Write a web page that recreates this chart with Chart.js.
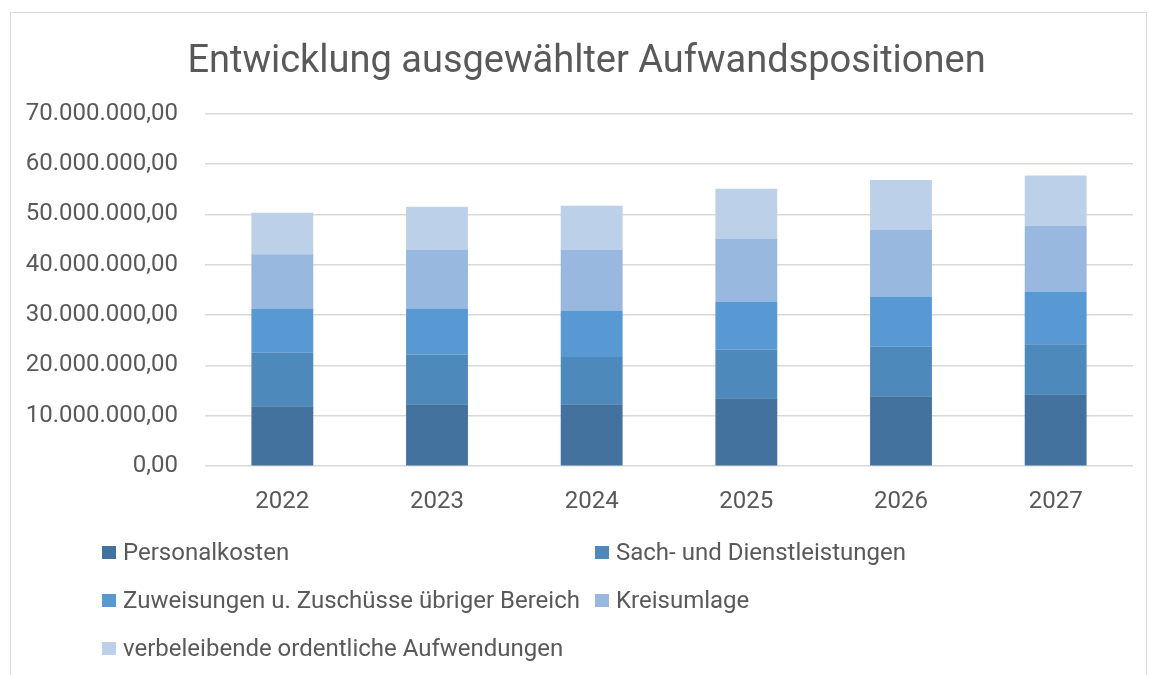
<!DOCTYPE html>
<html>
<head>
<meta charset="utf-8">
<script src="https://cdn.jsdelivr.net/npm/chart.js@4.4.1/dist/chart.umd.min.js"></script>
<style>
  html, body { margin: 0; padding: 0; background: #fff; }
  #frame { position: absolute; left: 10px; top: 12px; width: 1137px; height: 680px; border: 1px solid #d9d9d9; box-sizing: border-box; }
  #wrap { position: absolute; left: 0; top: 0; width: 1149px; height: 675px; }
  #legend { position: absolute; left: 102px; top: 538px; font-family: Roboto, sans-serif; font-size: 24px; color: #595959; }
  #legend .item { position: absolute; white-space: nowrap; display: flex; align-items: center; height: 28px; }
  #legend .box { width: 14px; height: 13px; margin-right: 7px; }
</style>
</head>
<body>
<div id="frame"></div>
<div id="wrap"><canvas id="chart" width="1149" height="675"></canvas></div>
<div id="legend"></div>
<script>
  // Daten (in Mio. EUR)
  var jahre = ['2022', '2023', '2024', '2025', '2026', '2027'];
  var personalkosten = [11.9, 12.3, 12.3, 13.5, 13.9, 14.3];
  var sachUndDienst = [10.6, 9.9, 9.4, 9.6, 9.8, 9.9];
  var zuweisungen = [8.8, 9.1, 9.2, 9.6, 10.0, 10.5];
  var kreisumlage = [10.8, 11.7, 12.1, 12.5, 13.2, 13.0];
  var verbleibende = [8.2, 8.5, 8.7, 9.9, 9.9, 10.0];

  var namen = ['Personalkosten', 'Sach- und Dienstleistungen', 'Zuweisungen u. Zuschüsse übriger Bereich', 'Kreisumlage', 'verbeleibende ordentliche Aufwendungen'];
  var farben = ['#44729e', '#4e89bb', '#5899d4', '#98b8df', '#bdd0ea'];
  var reihen = [personalkosten, sachUndDienst, zuweisungen, kreisumlage, verbleibende];

  function mio(arr) {
    return arr.map(function (v) { return v * 1000000; });
  }

  function formatDE(v) {
    var s = Math.round(v).toString();
    s = s.replace(/\B(?=(\d{3})+(?!\d))/g, '.');
    return s + ',00';
  }

  var datasets = [];
  for (var i = 0; i < reihen.length; i++) {
    datasets.push({
      label: namen[i],
      data: mio(reihen[i]),
      backgroundColor: farben[i],
      borderWidth: 0,
      categoryPercentage: 1,
      barPercentage: 0.4
    });
  }

  Chart.defaults.font.family = 'Roboto, sans-serif';
  Chart.defaults.color = '#595959';

  var ctx = document.getElementById('chart').getContext('2d');
  var chart = new Chart(ctx, {
    type: 'bar',
    data: { labels: jahre, datasets: datasets },
    options: {
      responsive: false,
      animation: false,
      // links/rechts so gewaehlt, dass der Titel mittig ueber dem Rahmen sitzt
      layout: { padding: { left: 26, right: 2, top: 40, bottom: 138 } },
      plugins: {
        legend: { display: false },
        tooltip: { enabled: false },
        title: {
          display: true,
          text: 'Entwicklung ausgewählter Aufwandspositionen',
          font: { size: 38, weight: 'normal' },
          color: '#595959',
          padding: { top: 0, bottom: 28 }
        }
      },
      scales: {
        x: {
          stacked: true,
          grid: { display: false, drawTicks: false },
          border: { display: false },
          ticks: { font: { size: 24 }, color: '#595959', padding: 21 }
        },
        y: {
          stacked: true,
          min: 0,
          max: 70000000,
          grid: { color: '#d9d9d9', lineWidth: 1.5, drawTicks: false },
          border: { display: false },
          ticks: {
            stepSize: 10000000,
            font: { size: 24 },
            color: '#595959',
            padding: 27,
            callback: function (v) { return formatDE(v); }
          },
          afterFit: function (scale) { scale.width = 179; }
        },
        // leere Achse rechts, nur als Abstand
        rechts: {
          position: 'right',
          display: true,
          grid: { display: false, drawTicks: false },
          border: { display: false },
          ticks: { display: false },
          afterFit: function (scale) { scale.width = 14; }
        }
      }
    }
  });

  // Legende in zwei Spalten
  var legend = document.getElementById('legend');
  for (var j = 0; j < namen.length; j++) {
    var item = document.createElement('div');
    item.className = 'item';
    item.style.left = (j % 2) * 493 + 'px';
    item.style.top = Math.floor(j / 2) * 48 + 'px';
    item.innerHTML = '<span class="box" style="background:' + farben[j] + '"></span><span>' + namen[j] + '</span>';
    legend.appendChild(item);
  }
</script>
</body>
</html>
